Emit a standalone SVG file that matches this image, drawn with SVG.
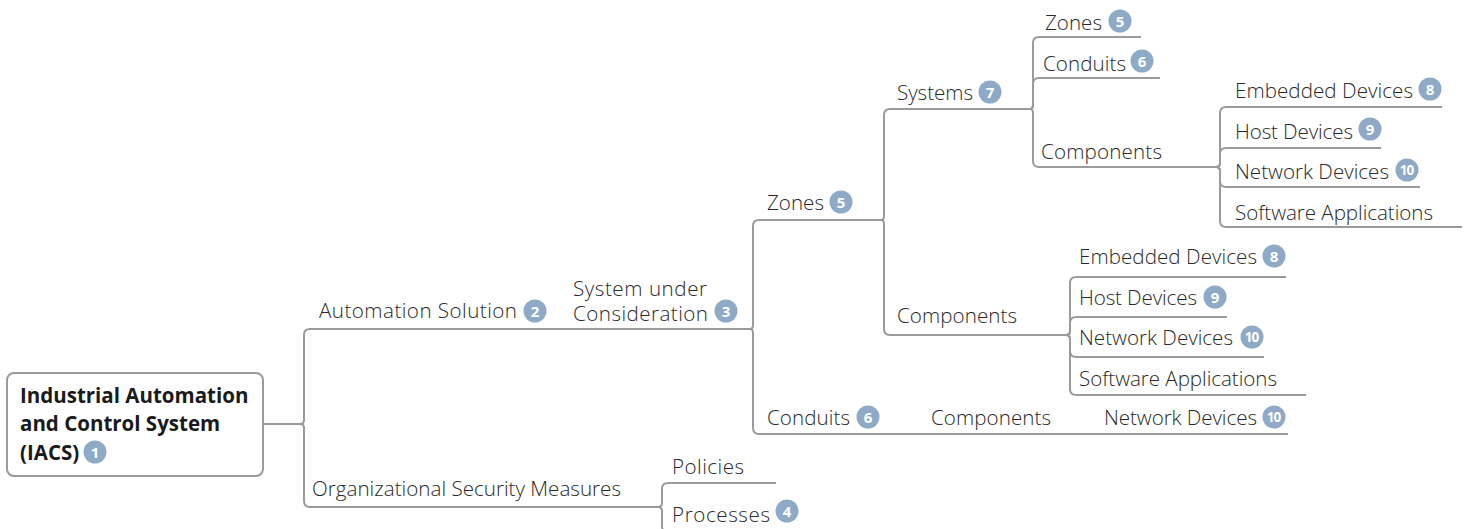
<svg xmlns="http://www.w3.org/2000/svg" width="1470" height="529" viewBox="0 0 1470 529">
<style>
.t{font-family:"Open Sans","Liberation Sans",sans-serif;font-size:20.6px;font-weight:300;fill:#2a2a2a}
.tb{font-family:"Open Sans","Liberation Sans",sans-serif;font-size:20.5px;font-weight:700;fill:#1a1a1a}
.b circle{fill:#8eaac6}
.b text{font-family:"Open Sans","Liberation Sans",sans-serif;font-size:15px;font-weight:700;fill:#ffffff;text-anchor:middle}
.b text.n{font-size:13.5px;letter-spacing:-0.9px}
.c path{fill:none;stroke:#9b9b9b;stroke-width:2}
</style>
<rect width="1470" height="529" fill="#ffffff"/>
<g id="connectors" class="c">
<path d="M263,424 H300"/>
<path d="M300,424 Q304,424 304,420 V335 Q304,329 310,329 H750"/>
<path d="M300,424 Q304,424 304,428 V501 Q304,507 310,507 H658"/>
<path d="M750,329 Q753,329 753,325 V226 Q753,220 759,220 H881"/>
<path d="M750,329 Q753,329 753,333 V428 Q753,434 759,434 H1288"/>
<path d="M881,220 Q884,220 884,216 V115 Q884,109 890,109 H1030"/>
<path d="M881,220 Q884,220 884,224 V329 Q884,335 890,335 H1066"/>
<path d="M1030,109 Q1033,109 1033,105 V43 Q1033,37 1039,37 H1141"/>
<path d="M1030,109 Q1033,109 1033,105 V84 Q1033,78 1039,78 H1160"/>
<path d="M1030,109 Q1033,109 1033,113 V161 Q1033,167 1039,167 H1216"/>
<path d="M1216,167 Q1220,167 1220,163 V113 Q1220,107 1226,107 H1442"/>
<path d="M1216,167 Q1220,167 1220,163 V154 Q1220,148 1226,148 H1381"/>
<path d="M1216,167 Q1220,167 1220,171 V181 Q1220,187 1226,187 H1420"/>
<path d="M1216,167 Q1220,167 1220,171 V221 Q1220,227 1226,227 H1462"/>
<path d="M1066,335 Q1070,335 1070,331 V283 Q1070,277 1076,277 H1286"/>
<path d="M1066,335 Q1070,335 1070,331 V323 Q1070,317 1076,317 H1227"/>
<path d="M1066,335 Q1070,335 1070,339 V351 Q1070,357 1076,357 H1264"/>
<path d="M1066,335 Q1070,335 1070,339 V389 Q1070,395 1076,395 H1306"/>
<path d="M658,507 Q662,507 662,503 V489 Q662,483 668,483 H776"/>
<path d="M658,507 Q662,507 662,511 V526 Q662,532 668,532 H800"/>
</g>
<g id="root">
<rect x="7" y="373" width="256" height="103" rx="7" fill="#ffffff" stroke="#9b9b9b" stroke-width="2"/>
<text class="tb"><tspan x="20" y="403">Industrial Automation</tspan><tspan x="20" y="431">and Control System</tspan><tspan x="20" y="460">(IACS)</tspan></text>
<g class="b"><circle cx="95" cy="452" r="11.5"/><text x="95" y="457.5">1</text></g>
</g>
<g id="automation-solution">
<text class="t" x="319" y="318" textLength="198" lengthAdjust="spacing">Automation Solution</text>
<g class="b"><circle cx="535" cy="311" r="11.5"/><text x="535" y="316.5">2</text></g>
</g>
<g id="system-under-consideration">
<text class="t"><tspan x="573" y="296" textLength="134" lengthAdjust="spacing">System under</tspan><tspan x="573" y="321" textLength="135" lengthAdjust="spacing">Consideration</tspan></text>
<g class="b"><circle cx="726" cy="311" r="11.5"/><text x="726" y="316.5">3</text></g>
</g>
<g id="org-security">
<text class="t" x="312" y="496" textLength="309" lengthAdjust="spacing">Organizational Security Measures</text>
</g>
<g id="policies">
<text class="t" x="672" y="474" textLength="72" lengthAdjust="spacing">Policies</text>
</g>
<g id="processes">
<text class="t" x="672" y="522" textLength="98" lengthAdjust="spacing">Processes</text>
<g class="b"><circle cx="787" cy="511" r="11.5"/><text x="787" y="516.5">4</text></g>
</g>
<g id="zones">
<text class="t" x="767" y="210" textLength="57" lengthAdjust="spacing">Zones</text>
<g class="b"><circle cx="841" cy="202" r="11.5"/><text x="841" y="207.5">5</text></g>
</g>
<g id="conduits">
<text class="t" x="767" y="425" textLength="83" lengthAdjust="spacing">Conduits</text>
<g class="b"><circle cx="868" cy="417" r="11.5"/><text x="868" y="422.5">6</text></g>
</g>
<g id="conduits-components">
<text class="t" x="931" y="425" textLength="120" lengthAdjust="spacing">Components</text>
</g>
<g id="conduits-network-devices">
<text class="t" x="1104" y="425" textLength="153" lengthAdjust="spacing">Network Devices</text>
<g class="b"><circle cx="1274" cy="417" r="11.5"/><text class="n" x="1273.5" y="422">10</text></g>
</g>
<g id="systems">
<text class="t" x="897" y="100" textLength="76" lengthAdjust="spacing">Systems</text>
<g class="b"><circle cx="990" cy="92" r="11.5"/><text x="990" y="97.5">7</text></g>
</g>
<g id="zones-components">
<text class="t" x="897" y="323" textLength="120" lengthAdjust="spacing">Components</text>
</g>
<g id="systems-zones">
<text class="t" x="1045" y="30" textLength="57" lengthAdjust="spacing">Zones</text>
<g class="b"><circle cx="1120" cy="21" r="11.5"/><text x="1120" y="26.5">5</text></g>
</g>
<g id="systems-conduits">
<text class="t" x="1043" y="71" textLength="83" lengthAdjust="spacing">Conduits</text>
<g class="b"><circle cx="1142" cy="61" r="11.5"/><text x="1142" y="66.5">6</text></g>
</g>
<g id="systems-components">
<text class="t" x="1041" y="159" textLength="121" lengthAdjust="spacing">Components</text>
</g>
<g id="sc-embedded">
<text class="t" x="1235" y="98" textLength="178" lengthAdjust="spacing">Embedded Devices</text>
<g class="b"><circle cx="1430" cy="89" r="11.5"/><text x="1430" y="94.5">8</text></g>
</g>
<g id="sc-host">
<text class="t" x="1235" y="139" textLength="118" lengthAdjust="spacing">Host Devices</text>
<g class="b"><circle cx="1370" cy="129" r="11.5"/><text x="1370" y="134.5">9</text></g>
</g>
<g id="sc-network">
<text class="t" x="1235" y="179" textLength="154" lengthAdjust="spacing">Network Devices</text>
<g class="b"><circle cx="1407" cy="170" r="11.5"/><text class="n" x="1406.5" y="175">10</text></g>
</g>
<g id="sc-software">
<text class="t" x="1235" y="220" textLength="198" lengthAdjust="spacing">Software Applications</text>
</g>
<g id="zc-embedded">
<text class="t" x="1079" y="264" textLength="178" lengthAdjust="spacing">Embedded Devices</text>
<g class="b"><circle cx="1274" cy="256" r="11.5"/><text x="1274" y="261.5">8</text></g>
</g>
<g id="zc-host">
<text class="t" x="1079" y="305" textLength="118" lengthAdjust="spacing">Host Devices</text>
<g class="b"><circle cx="1215" cy="297" r="11.5"/><text x="1215" y="302.5">9</text></g>
</g>
<g id="zc-network">
<text class="t" x="1079" y="345" textLength="154" lengthAdjust="spacing">Network Devices</text>
<g class="b"><circle cx="1252" cy="337" r="11.5"/><text class="n" x="1251.5" y="342">10</text></g>
</g>
<g id="zc-software">
<text class="t" x="1079" y="386" textLength="198" lengthAdjust="spacing">Software Applications</text>
</g>
</svg>
